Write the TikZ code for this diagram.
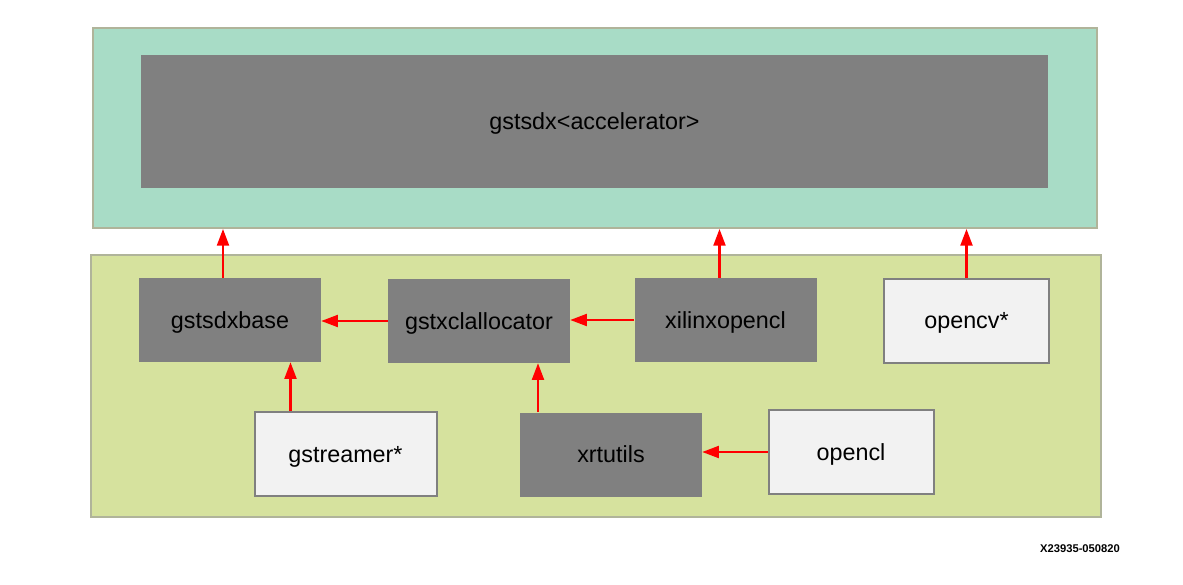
\documentclass[tikz,border=0pt]{standalone}
\usepackage{fontspec}
\setmainfont{Liberation Sans}
\usetikzlibrary{arrows.meta}
\definecolor{tealbg}{HTML}{A8DCC6}
\definecolor{greenbg}{HTML}{D6E29E}
\definecolor{rimline}{HTML}{B0B49A}
\definecolor{darkbox}{HTML}{808080}
\definecolor{lightbox}{HTML}{F2F2F2}
\tikzset{
  layer/.style={draw=rimline, line width=1.5pt, inner sep=0pt},
  module/.style={fill=darkbox, inner sep=0pt, text depth=0pt, minimum width=136.5pt, minimum height=63pt, font=\fontsize{17.5}{20}\selectfont},
  extern/.style={module, fill=lightbox, draw=darkbox, line width=1.5pt},
  dep/.style={-{Triangle[length=12.5pt,width=9pt]}, red, line width=1.6pt}
}
\begin{document}
\begin{tikzpicture}[x=0.75pt, y=-0.75pt]
				\useasboundingbox (0,0) rectangle (1183,585);
				\node[layer, fill=tealbg, minimum width=753pt, minimum height=150pt] (top) at (594.5,128) {};
				\node[layer, fill=greenbg, minimum width=757.5pt, minimum height=196.5pt] (bottom) at (596,386) {};
				\node[module, minimum width=680pt, minimum height=100pt] (accel) at (594.5,121.5) {gstsdx<accelerator>};
				\node[module] (base) at (230,320) {gstsdxbase};
				\node[module] (alloc) at (479,321) {gstxclallocator};
				\node[module] (xocl) at (725.5,320) {xilinxopencl};
				\node[extern, minimum width=123.75pt] (ocv) at (966.5,320.5) {opencv*};
				\node[extern] (gst) at (345.5,454) {gstreamer*};
				\node[module] (xrt) at (611,454.5) {xrtutils};
				\node[extern, minimum width=123.75pt] (ocl) at (851,452) {opencl};
				\node[font=\bfseries\fontsize{8.4}{10}\selectfont] (tag) at (1080,549) {X23935-050820};
				\draw[dep] ([xshift=-5.25pt]base.north) to ([xshift=-5.25pt]base.north |- top.south);
				\draw[dep] ([xshift=-4.5pt]xocl.north) to ([xshift=-4.5pt]xocl.north |- top.south);
				\draw[dep] (ocv.north) to (ocv.north |- top.south);
				\draw[dep] (alloc.west) to (alloc.west -| base.east);
				\draw[dep] (xocl.west) to (xocl.west -| alloc.east);
				\draw[dep] ([xshift=-41.25pt]gst.north) to ([xshift=-41.25pt]gst.north |- base.south);
				\draw[dep] ([xshift=-54.75pt]xrt.north) to ([xshift=-54.75pt]xrt.north |- alloc.south);
				\draw[dep] (ocl.west) to (ocl.west -| xrt.east);
			\end{tikzpicture}
\end{document}
